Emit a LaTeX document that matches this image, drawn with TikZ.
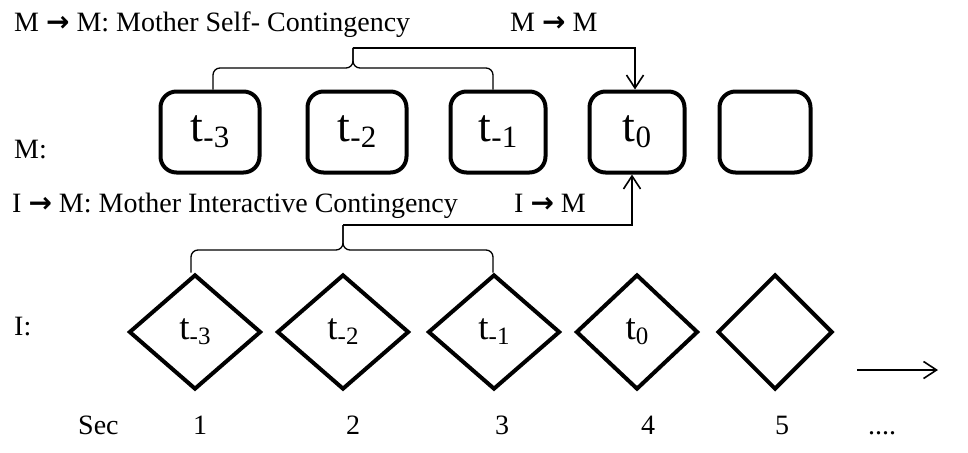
\documentclass[tikz,border=0pt]{standalone}
\usepackage{fontspec}
\setmainfont{Liberation Serif}
\newfontfamily\arrowfont{DejaVu Sans}
\usetikzlibrary{shapes.geometric,arrows.meta}
\newcommand{\rarr}{{\arrowfont\bfseries →}}
\newcommand{\bsub}[1]{\raisebox{-6pt}{\fontsize{31}{32}\selectfont #1}}
\newcommand{\dsub}[1]{\raisebox{-5pt}{\fontsize{25}{26}\selectfont #1}}
\begin{document}
\begin{tikzpicture}[x=1pt,y=-1pt,
  lbl/.style={inner sep=0pt, anchor=base west, font=\fontsize{28}{30}\selectfont},
  num/.style={inner sep=0pt, anchor=base, font=\fontsize{28}{30}\selectfont},
  mbox/.style={draw, line width=4pt, rounded corners=16pt, minimum height=81pt,
    inner sep=0pt, font=\fontsize{46}{50}\selectfont},
  idia/.style={draw, diamond, line width=4pt, minimum height=115pt, inner sep=0pt,
    font=\fontsize{37}{40}\selectfont},
  brace/.style={line width=1.3pt, rounded corners=7pt},
  conn/.style={line width=1.8pt, -{Straight Barb[length=13pt,width=17pt,line width=1.6pt]}}
]
\useasboundingbox (0,0) rectangle (968,452);

% labels
\node[lbl] (tm)  at (14,32)  {M \rarr{} M: Mother Self- Contingency};
\node[lbl] (tm2) at (510,32) {M \rarr{} M};
\node[lbl] (ti)  at (12,212) {I \rarr{} M: Mother Interactive Contingency};
\node[lbl] (ti2) at (514,212) {I \rarr{} M};
\node[lbl] (lm)  at (14,158) {M:};
\node[lbl] (li)  at (14,335) {I:};

% mother boxes
\node[mbox, minimum width=99pt] (b1) at (210,132) {\raisebox{-3pt}{t\bsub{-3}}};
\node[mbox, minimum width=99pt] (b2) at (357,132) {\raisebox{-3pt}{t\bsub{-2}}};
\node[mbox, minimum width=95pt] (b3) at (498,132) {\raisebox{-3pt}{t\bsub{-1}}};
\node[mbox, minimum width=95pt] (b4) at (637,132) {\raisebox{-3pt}{t\bsub{0}}};
\node[mbox, minimum width=91pt] (b5) at (765,132) {};

% infant diamonds
\node[idia, minimum width=132pt] (d1) at (195,332) {\raisebox{-6pt}{t\dsub{-3}}};
\node[idia, minimum width=132pt] (d2) at (343,332) {\raisebox{-6pt}{t\dsub{-2}}};
\node[idia, minimum width=132pt] (d3) at (494,332) {\raisebox{-6pt}{t\dsub{-1}}};
\node[idia, minimum width=122pt] (d4) at (637,332) {\raisebox{-6pt}{t\dsub{0}}};
\node[idia, minimum width=115pt] (d5) at (775,332) {};

% upper brace and arrow
\coordinate (mtip) at (353,48);
\coordinate (mmid) at (353,68);
\draw[brace] ([xshift=3pt]b1.north) |- (mmid) -- (mtip);
\draw[brace] ([xshift=-5pt]b3.north) |- (mmid) -- (mtip);
\draw[conn] (mtip) -| ([xshift=-2pt]b4.north);

% lower brace and arrow
\coordinate (itip) at (343,225);
\coordinate (imid) at (343,250);
\draw[brace] ([xshift=-4pt]d1.north) |- (imid) -- (itip);
\draw[brace] ([xshift=-1pt]d3.north) |- (imid) -- (itip);
\draw[conn] (itip) -| ([xshift=-5pt]b4.south);

% time arrow
\coordinate (ra) at (857,370);
\coordinate (rb) at (938,370);
\draw[conn] (ra) -- (rb);

% seconds row
\node[lbl] (sec) at (78,434) {Sec};
\node[num] (s1) at (200,434) {1};
\node[num] (s2) at (353,434) {2};
\node[num] (s3) at (502,434) {3};
\node[num] (s4) at (648,434) {4};
\node[num] (s5) at (782,434) {5};
\node[lbl] (sdots) at (868,434) {....};
\end{tikzpicture}
\end{document}
